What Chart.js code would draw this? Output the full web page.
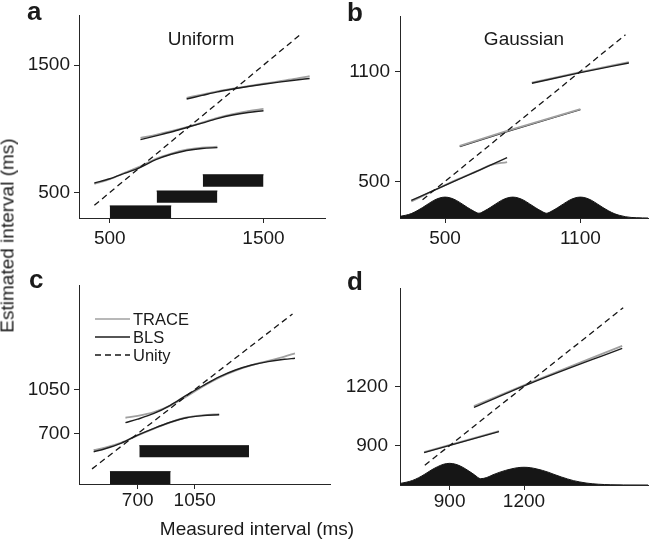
<!DOCTYPE html>
<html>
<head>
<meta charset="utf-8">
<script src="https://cdn.jsdelivr.net/npm/chart.js@4/dist/chart.umd.min.js"></script>
<style>
  html, body { margin: 0; padding: 0; background: #fff; }
  #fig { position: relative; width: 658px; height: 542px; overflow: hidden;
         font-family: "Liberation Sans", Arial, sans-serif; color: #1a1a1a; }
  #fig canvas { position: absolute; }
  .lbl { position: absolute; white-space: nowrap; }
  .letter { font-weight: bold; font-size: 26px; line-height: 26px; }
  .ttl { font-size: 19px; line-height: 19px; width: 200px; text-align: center; }
</style>
</head>
<body>
<div id="fig">
  <canvas id="pa" width="330" height="258" style="left:0;top:0"></canvas>
  <canvas id="pb" width="328" height="258" style="left:330px;top:0"></canvas>
  <canvas id="pc" width="334" height="282" style="left:0;top:260px"></canvas>
  <canvas id="pd" width="328" height="282" style="left:330px;top:260px"></canvas>

  <div class="lbl letter" style="left:27px;top:-2px">a</div>
  <div class="lbl letter" style="left:347px;top:-1px">b</div>
  <div class="lbl letter" style="left:29px;top:266px">c</div>
  <div class="lbl letter" style="left:347px;top:268px">d</div>
  <div class="lbl ttl" style="left:101px;top:29px">Uniform</div>
  <div class="lbl ttl" style="left:424px;top:29px">Gaussian</div>
  <div class="lbl ttl" style="left:157px;top:519px">Measured interval (ms)</div>
  <div class="lbl ttl" style="left:-143px;top:226px;width:300px;transform:rotate(-90deg)">Estimated interval (ms)</div>
</div>

<script>
// ---- panel a (uniform priors) ----
const aTicks = [500, 1500];
const aUnityX = [400, 1750];
const aBarLo = [500, 805, 1105];
const aBarHi = [900, 1200, 1500];
const aBarTop = [395, 512, 639];
const aBarBottom = [300, 419, 546];
const aLowX = [400, 500, 600, 700, 800, 900, 1000, 1100, 1200];
const aLowBls = [575, 608, 652, 698, 758, 800, 830, 846, 852];
const aLowTrace = [568, 604, 656, 705, 765, 806, 836, 852, 859];
const aMidX = [700, 800, 900, 1000, 1100, 1200, 1300, 1400, 1500];
const aMidBls = [915, 945, 975, 1010, 1045, 1080, 1108, 1128, 1142];
const aMidTrace = [929, 953, 981, 1013, 1049, 1086, 1116, 1139, 1156];
const aHighX = [1000, 1100, 1200, 1300, 1400, 1500, 1600, 1700, 1800];
const aHighBls = [1234, 1262, 1290, 1312, 1332, 1350, 1366, 1381, 1395];
const aHighTrace = [1243, 1269, 1294, 1315, 1335, 1354, 1372, 1391, 1413];

// ---- panel b (gaussian priors) ----
const bTicks = [500, 1100];
const bUnityX = [400, 1300];
const bPriorX = [300, 325, 350, 375, 400, 425, 450, 475, 500, 525, 550, 575, 600, 625, 650,
  675, 700, 725, 750, 775, 800, 825, 850, 875, 900, 925, 950, 975, 1000, 1025, 1050,
  1075, 1100, 1125, 1150, 1175, 1200, 1225, 1250, 1275, 1300, 1325, 1350, 1375, 1400];
const bPriorY = [309, 315, 324, 339, 357, 377, 396, 409, 414, 409, 396, 377, 357, 339, 326,
  339, 357, 377, 396, 409, 414, 409, 396, 377, 357, 339, 326, 339, 357, 377, 396,
  409, 414, 409, 396, 377, 357, 339, 324, 314, 307, 303, 301.5, 300.5, 300];
const bLowX = [350, 450, 550, 650, 775];
const bLowBls = [396, 451, 505, 560, 629];
const bLowTraceX = [350, 450, 550, 650, 700, 775];
const bLowTrace = [390, 450, 508, 560, 588, 605];
const bMidX = [565, 775, 1100];
const bMidBls = [690, 772, 891];
const bMidTrace = [693, 775, 894];
const bHighX = [885, 1100, 1315];
const bHighBls = [1035, 1093, 1146];
const bHighTrace = [1038, 1096, 1151];

// ---- panel c (uniform priors, legend) ----
const cTicks = [700, 1050];
const cUnityX = [420, 1650];
const cBarLo = [530, 710];
const cBarHi = [902, 1383];
const cBarTop = [398, 604];
const cBarBottom = [300, 512];
const cLowX = [430, 500, 600, 700, 800, 900, 1000, 1100, 1200];
const cLowBls = [556, 580, 625, 688, 742, 790, 826, 843, 850];
const cLowTrace = [570, 588, 628, 686, 740, 790, 828, 846, 855];
const cHighX = [625, 700, 800, 900, 1000, 1100, 1200, 1300, 1400, 1500, 1600, 1665];
const cHighBls = [787, 815, 860, 925, 1005, 1080, 1150, 1205, 1245, 1272, 1290, 1298];
const cHighTrace = [826, 840, 870, 922, 995, 1075, 1145, 1200, 1243, 1277, 1312, 1337];
const legendNames = ["TRACE", "BLS", "Unity"];

// ---- panel d (gaussian priors) ----
const dTicks = [900, 1200];
const dUnityX = [800, 1600];
const dPriorX = [700, 725, 750, 775, 800, 825, 850, 875, 900, 925, 950, 975, 1000, 1025,
  1050, 1075, 1100, 1125, 1150, 1175, 1200, 1225, 1250, 1275, 1300, 1325, 1350, 1375,
  1400, 1425, 1450, 1475, 1500, 1525, 1550, 1575, 1600, 1700];
const dPriorY = [708, 714, 723, 737, 755, 775, 792, 805, 810, 805, 792, 773, 752, 732,
  738, 752, 764, 774, 782, 788, 790, 788, 782, 774, 764, 752, 741, 731,
  722, 715.5, 710, 706.5, 704, 702.3, 701.3, 700.7, 700.3, 700];
const dLowX = [797, 1099];
const dLowBls = [864, 971];
const dLowTrace = [867, 974];
const dHighX = [998, 1238, 1596];
const dHighBls = [1094, 1222, 1394];
const dHighTrace = [1101, 1226, 1406];

const TRACE_COLOR = "#a0a0a0";
const BLS_COLOR = "#1e1e1e";
const INK = "#161616";
const AXIS = "#262626";
const FONT = '"Liberation Sans", Arial, sans-serif';

const pts = (xs, ys) => xs.map((x, i) => ({ x, y: ys[i] }));

function curve(xs, ys, color, width) {
  return { data: pts(xs, ys), borderColor: color, borderWidth: width,
           cubicInterpolationMode: "monotone", pointRadius: 0, fill: false };
}
const trace = (xs, ys) => curve(xs, ys, TRACE_COLOR, 1.8);
const bls = (xs, ys) => curve(xs, ys, BLS_COLOR, 1.4);

function unity(xs) {
  return { data: pts(xs, xs), borderColor: INK, borderWidth: 1.3, borderDash: [6, 4],
           pointRadius: 0, fill: false };
}

function bars(lo, hi, top, bottom) {
  return lo.map((x0, i) => ({
    data: [{ x: x0, y: top[i] }, { x: hi[i], y: top[i] }],
    borderColor: INK, borderWidth: 1, backgroundColor: INK,
    pointRadius: 0, fill: { value: bottom[i] },
  }));
}

function prior(xs, ys) {
  return { data: pts(xs, ys), borderColor: INK, borderWidth: 1, backgroundColor: INK,
           cubicInterpolationMode: "monotone", pointRadius: 0, fill: "start" };
}

function axis(min, max, ticks, tickPad, size, horizontal) {
  return {
    type: "linear", min, max,
    afterBuildTicks: (s) => { s.ticks = ticks.map(v => ({ value: v })); },
    afterFit: (s) => { if (horizontal) s.height = size; else s.width = size; },
    ticks: { color: "#1a1a1a", padding: tickPad, autoSkip: false, maxRotation: 0,
             font: { family: FONT, size: 19 }, callback: (v) => String(v) },
    grid: { drawOnChartArea: false, drawTicks: true, tickLength: 5, color: AXIS },
    border: { display: true, color: AXIS, width: 1 },
  };
}

const legendPlugin = {
  id: "panelLegend",
  afterDraw(chart) {
    const ctx = chart.ctx;
    const rows = [59, 77, 95];
    const styles = [[TRACE_COLOR, 1.4, []], [BLS_COLOR, 1.4, []], [INK, 1.3, [6, 4]]];
    ctx.save();
    rows.forEach((y, i) => {
      ctx.strokeStyle = styles[i][0];
      ctx.lineWidth = styles[i][1];
      ctx.setLineDash(styles[i][2]);
      ctx.beginPath();
      ctx.moveTo(95, y);
      ctx.lineTo(130, y);
      ctx.stroke();
      ctx.setLineDash([]);
      ctx.fillStyle = "#1a1a1a";
      ctx.font = "16.5px " + FONT;
      ctx.textBaseline = "middle";
      ctx.fillText(legendNames[i], 133, y + 1);
    });
    ctx.restore();
  },
};

function panel(id, datasets, x, y, padding, plugins) {
  return new Chart(document.getElementById(id), {
    type: "line",
    data: { datasets },
    options: {
      responsive: false, maintainAspectRatio: false, animation: false,
      devicePixelRatio: 1, events: [],
      layout: { padding },
      plugins: { legend: { display: false }, tooltip: { enabled: false } },
      scales: { x, y },
    },
    plugins: plugins || [],
  });
}

// earlier datasets are drawn on top: dashed unity, then BLS over TRACE
panel("pa", [
  unity(aUnityX),
  bls(aLowX, aLowBls), trace(aLowX, aLowTrace),
  bls(aMidX, aMidBls), trace(aMidX, aMidTrace),
  bls(aHighX, aHighBls), trace(aHighX, aHighTrace),
  ...bars(aBarLo, aBarHi, aBarTop, aBarBottom),
], axis(300, 1900, aTicks, 4, 32, true), axis(300, 1890, aTicks, 4, 60, false),
   { left: 19, top: 13, right: 5, bottom: 8 });

panel("pb", [
  unity(bUnityX),
  bls(bLowX, bLowBls), trace(bLowTraceX, bLowTrace),
  trace(bMidX, bMidTrace), bls(bMidX, bMidBls),
  bls(bHighX, bHighBls), trace(bHighX, bHighTrace),
  prior(bPriorX, bPriorY),
], axis(300, 1400, bTicks, 4, 32, true), axis(300, 1400, bTicks, 5, 60, false),
   { left: 10, top: 13, right: 10, bottom: 8 });

panel("pc", [
  unity(cUnityX),
  bls(cLowX, cLowBls), trace(cLowX, cLowTrace),
  bls(cHighX, cHighBls), trace(cHighX, cHighTrace),
  ...bars(cBarLo, cBarHi, cBarTop, cBarBottom),
], axis(340, 1880, cTicks, 0, 32, true), axis(300, 1880, cTicks, 4, 60, false),
   { left: 19, top: 25, right: 4, bottom: 26 }, [legendPlugin]);

panel("pd", [
  unity(dUnityX),
  bls(dLowX, dLowBls), trace(dLowX, dLowTrace),
  bls(dHighX, dHighBls), trace(dHighX, dHighTrace),
  prior(dPriorX, dPriorY),
], axis(700, 1700, dTicks, 0, 32, true), axis(700, 1700, dTicks, 7, 60, false),
   { left: 10, top: 28, right: 10, bottom: 25 });
</script>
</body>
</html>
